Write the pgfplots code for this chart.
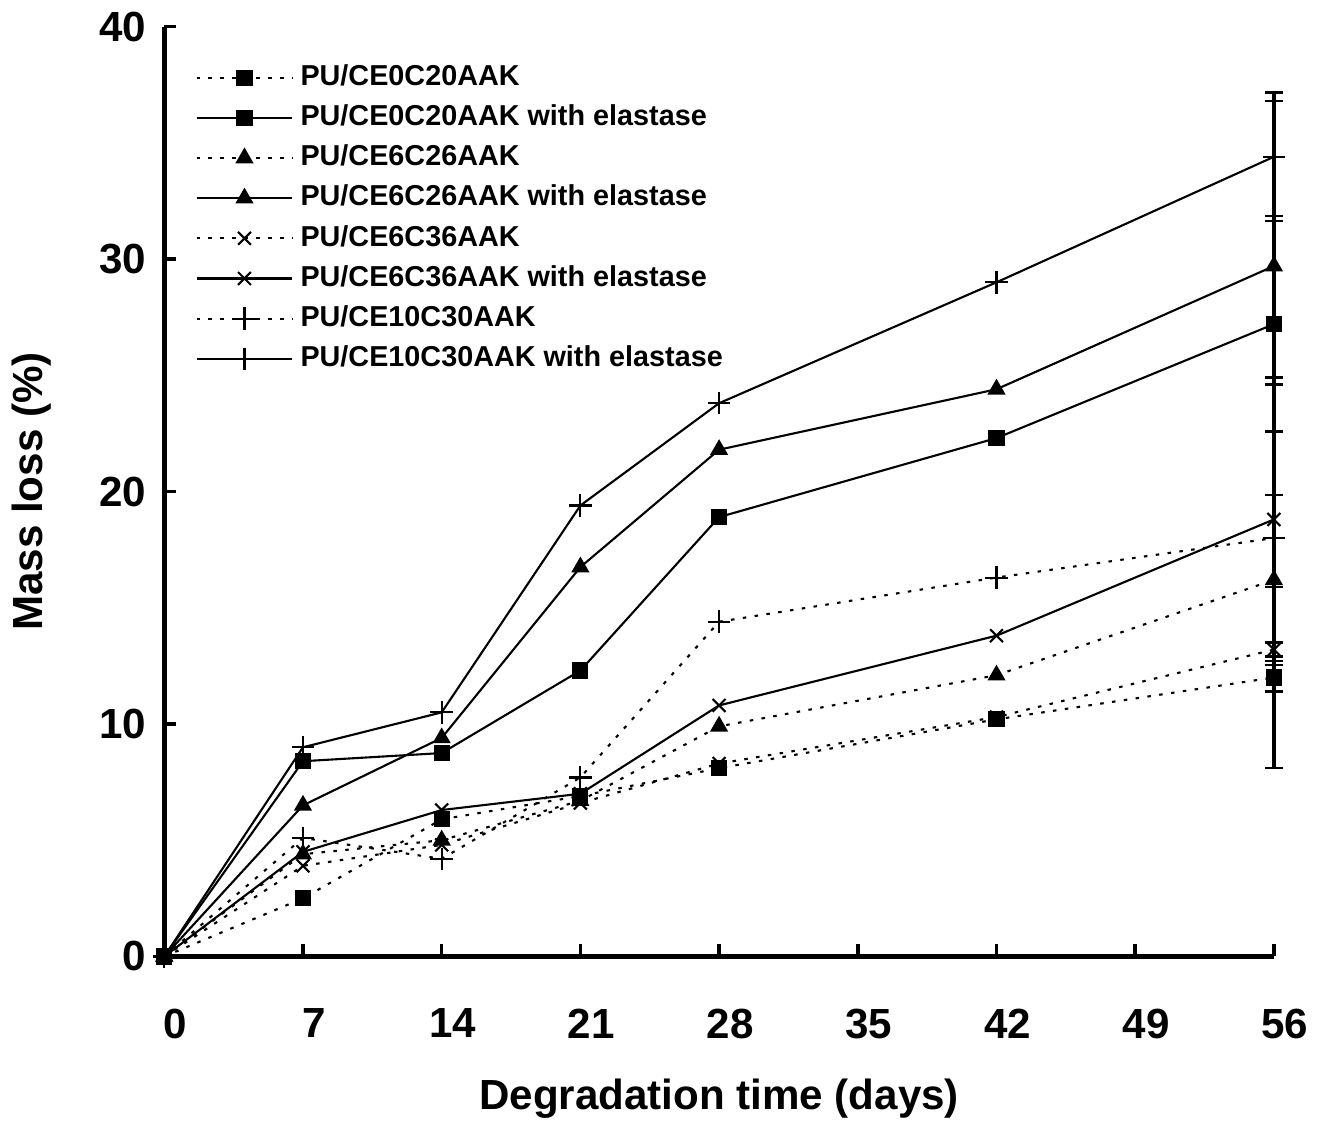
\documentclass[border=0pt]{standalone}
\usepackage{fontspec}
\setmainfont{Liberation Sans}
\usepackage{pgfplots}
\pgfplotsset{compat=1.18}

\pgfplotsset{
  dotline/.style={black, line width=0.6pt, dash pattern=on 1pt off 2.4pt},
  solline/.style={black, line width=0.6pt, solid},
  ebar/.style={forget plot, draw=none, mark=none,
    error bars/.cd, y dir=both, y explicit,
    error bar style={draw=black, line width=1.1pt, solid},
    error mark=-,
    error mark options={draw=black, rotate=90, line width=0.7pt, mark size=2.6pt}},
}

\begin{document}
\begin{tikzpicture}
\begin{axis}[
  scale only axis,
  width=111.1mm, height=93.1mm,
  xmin=0, xmax=56, ymin=0, ymax=40,
  axis lines=left,
  axis line style={line width=1.4pt, -},
  xtick={0,7,...,56}, ytick={0,10,...,40},
  tick align=inside,
  major tick length=1.2mm,
  tick style={line width=1pt, black},
  /pgf/number format/assume math mode=true,
  ticklabel style={font=\fontsize{12}{14}\selectfont\bfseries},
  xticklabel style={yshift=-4mm, xshift=1.1mm},
  yticklabel style={xshift=-0.6mm},
  label style={font=\fontsize{12}{14}\selectfont\bfseries},
  xlabel={Degradation time (days)},
  ylabel={Mass loss (\%)},
  xlabel style={yshift=-1.6mm},
  ylabel style={yshift=2.4mm},
  clip=false,
  legend style={at={(0.018,0.975)}, anchor=north west, draw=none, fill=none,
    font=\fontsize{8.2}{9.5}\selectfont\bfseries, row sep=0pt},
  legend cell align=left,
  legend image code/.code={
    \draw[mark repeat=2, mark phase=2] plot coordinates {(0cm,0cm) (0.48cm,0cm) (0.96cm,0cm)};},
  every axis plot/.append style={mark options={solid}},
]

% PU/CE0C20AAK
\addplot[dotline, mark=square*, mark size=2pt] coordinates {
  (0,0) (7,2.5) (14,5.9) (21,6.9) (28,8.1) (42,10.2) (56,12.0)};
\addlegendentry{PU/CE0C20AAK}
% with elastase
\addplot[solline, mark=square*, mark size=2pt] coordinates {
  (0,0) (7,8.4) (14,8.75) (21,12.3) (28,18.9) (42,22.3) (56,27.2)};
\addlegendentry{PU/CE0C20AAK with elastase}
% PU/CE6C26AAK
\addplot[dotline, mark=triangle*, mark size=2.4pt] coordinates {
  (0,0) (7,4.4) (14,5.0) (21,6.7) (28,9.9) (42,12.1) (56,16.2)};
\addlegendentry{PU/CE6C26AAK}
\addplot[solline, mark=triangle*, mark size=2.4pt] coordinates {
  (0,0) (7,6.5) (14,9.4) (21,16.75) (28,21.8) (42,24.4) (56,29.7)};
\addlegendentry{PU/CE6C26AAK with elastase}
% PU/CE6C36AAK
\addplot[dotline, mark=x, mark size=2.6pt] coordinates {
  (0,0) (7,3.9) (14,4.8) (21,6.6) (28,8.3) (42,10.3) (56,13.2)};
\addlegendentry{PU/CE6C36AAK}
\addplot[solline, mark=x, mark size=2.6pt] coordinates {
  (0,0) (7,4.5) (14,6.3) (21,7.0) (28,10.8) (42,13.8) (56,18.8)};
\addlegendentry{PU/CE6C36AAK with elastase}
% PU/CE10C30AAK
\addplot[dotline, mark=+, mark size=3.2pt] coordinates {
  (0,0) (7,5.1) (14,4.2) (21,7.7) (28,14.4) (42,16.3) (56,18.0)};
\addlegendentry{PU/CE10C30AAK}
\addplot[solline, mark=+, mark size=3.2pt] coordinates {
  (0,0) (7,9.0) (14,10.5) (21,19.4) (28,23.8) (42,29.0) (56,34.4)};
\addlegendentry{PU/CE10C30AAK with elastase}

% error bars at day 56
\addplot[ebar] coordinates {(56,12.0) +- (0,3.9)};
\addplot[ebar] coordinates {(56,27.2) +- (0,4.65)};
\addplot[ebar] coordinates {(56,16.2) +- (0,3.66)};
\addplot[ebar] coordinates {(56,29.7) +- (0,7.1)};
\addplot[ebar] coordinates {(56,13.2) +- (0,0.3)};
\addplot[ebar] coordinates {(56,18.8) +- (0,6.1)};
\addplot[ebar] coordinates {(56,18.0) +- (0,6.6)};
\addplot[ebar] coordinates {(56,34.4) +- (0,2.76)};
\end{axis}
\end{tikzpicture}
\end{document}
